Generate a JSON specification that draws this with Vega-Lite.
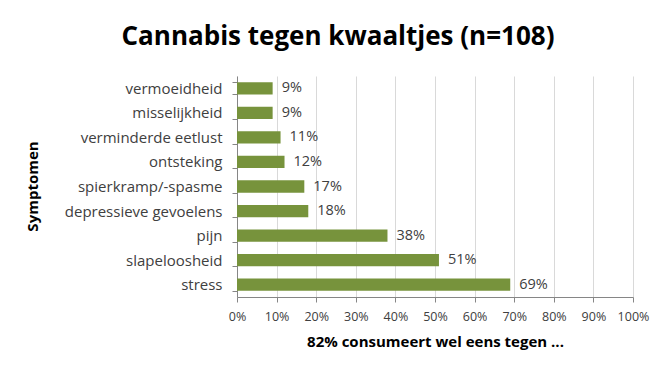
{
  "$schema": "https://vega.github.io/schema/vega-lite/v6.json",
  "width": 396,
  "height": 221,
  "autosize": {"type": "none"},
  "padding": {"left": 237, "top": 76, "right": 38, "bottom": 70},
  "background": "white",
  "title": {
    "text": "Cannabis tegen kwaaltjes (n=108)",
    "font": "Open Sans",
    "fontSize": 26,
    "fontWeight": "bold",
    "color": "#000000",
    "anchor": "middle",
    "frame": "group",
    "dx": -97,
    "offset": 19
  },
  "data": {
    "values": [
      {"symptoom": "vermoeidheid", "pct": 0.09},
      {"symptoom": "misselijkheid", "pct": 0.09},
      {"symptoom": "verminderde eetlust", "pct": 0.11},
      {"symptoom": "ontsteking", "pct": 0.12},
      {"symptoom": "spierkramp/-spasme", "pct": 0.17},
      {"symptoom": "depressieve gevoelens", "pct": 0.18},
      {"symptoom": "pijn", "pct": 0.38},
      {"symptoom": "slapeloosheid", "pct": 0.51},
      {"symptoom": "stress", "pct": 0.69}
    ]
  },
  "encoding": {
    "y": {
      "field": "symptoom",
      "type": "nominal",
      "sort": null,
      "scale": {"paddingInner": 0.5, "paddingOuter": 0.25},
      "axis": {
        "title": "Symptomen",
        "titleFont": "Open Sans",
        "titleFontSize": 15,
        "titleFontWeight": "bold",
        "titleColor": "#000000",
        "titleX": -197,
        "titleY": 110,
        "titleAngle": -90,
        "labelFont": "Open Sans",
        "labelFontSize": 15,
        "labelColor": "#404040",
        "labelPadding": 10,
        "domainColor": "#868686",
        "tickColor": "#868686",
        "tickSize": 5,
        "tickBand": "extent",
        "grid": false
      }
    },
    "x": {
      "field": "pct",
      "type": "quantitative",
      "scale": {"domain": [0, 1]},
      "axis": {
        "title": "82% consumeert wel eens tegen ...",
        "titleFont": "Open Sans",
        "titleFontSize": 15,
        "titleFontWeight": "bold",
        "titleColor": "#000000",
        "titlePadding": 12,
        "format": ".0%",
        "values": [0, 0.1, 0.2, 0.3, 0.4, 0.5, 0.6, 0.7, 0.8, 0.9, 1],
        "labelOverlap": false,
        "labelFlush": false,
        "labelFont": "Open Sans",
        "labelFontSize": 12.5,
        "labelColor": "#404040",
        "labelPadding": 8,
        "domainColor": "#868686",
        "tickColor": "#868686",
        "tickSize": 5,
        "grid": true,
        "gridColor": "#d9d9d9"
      }
    }
  },
  "layer": [
    {"mark": {"type": "bar", "color": "#77933C"}},
    {
      "mark": {"type": "text", "align": "left", "dx": 9, "font": "Open Sans", "fontSize": 14.5, "color": "#404040"},
      "encoding": {"text": {"field": "pct", "type": "quantitative", "format": ".0%"}}
    }
  ],
  "config": {"view": {"stroke": null}}
}
